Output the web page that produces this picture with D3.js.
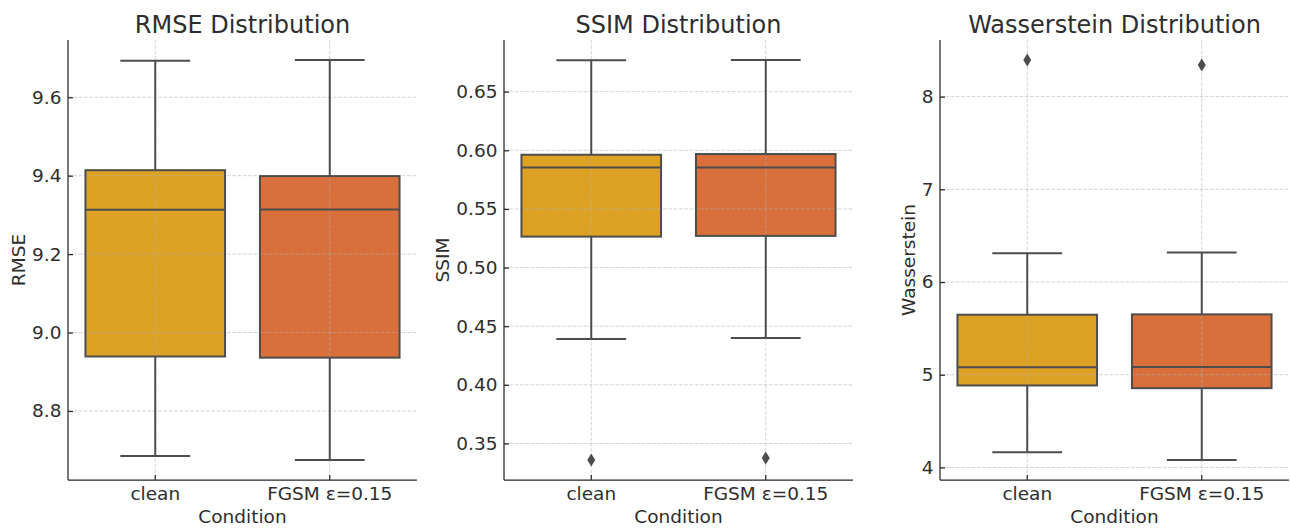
<!DOCTYPE html>
<html>
<head>
<meta charset="utf-8">
<script src="https://cdn.jsdelivr.net/npm/d3@7/dist/d3.min.js"></script>
<style>
  body { margin: 0; background: #fff; }
  svg text { font-family: "DejaVu Sans", sans-serif; fill: #2e2e2e; }
</style>
</head>
<body>
<svg id="chart" width="1290" height="530"></svg>
<script>
// conditions on the x axis
var conditions = ["clean", "FGSM ε=0.15"];
var boxColors = ["#dda224", "#d9703b"];

// box stats per condition: [lower whisker, q1, median, q3, upper whisker]
var rmseStats = [[8.685, 8.939, 9.313, 9.414, 9.693], [8.675, 8.936, 9.314, 9.399, 9.695]];
var rmseOutliers = [[], []];
var rmseTicks = [8.8, 9.0, 9.2, 9.4, 9.6];

var ssimStats = [[0.439, 0.5264, 0.5853, 0.5962, 0.6768], [0.4399, 0.527, 0.5853, 0.5968, 0.677]];
var ssimOutliers = [[0.3359], [0.3376]];
var ssimTicks = [0.35, 0.40, 0.45, 0.50, 0.55, 0.60, 0.65];

var wassStats = [[4.164, 4.884, 5.081, 5.647, 6.31], [4.08, 4.855, 5.084, 5.651, 6.318]];
var wassOutliers = [[8.395], [8.34]];
var wassTicks = [4, 5, 6, 7, 8];

var panels = [
  {title: "RMSE Distribution", ylabel: "RMSE", stats: rmseStats, outliers: rmseOutliers, ticks: rmseTicks, fmt: ".1f", left: 68},
  {title: "SSIM Distribution", ylabel: "SSIM", stats: ssimStats, outliers: ssimOutliers, ticks: ssimTicks, fmt: ".2f", left: 504},
  {title: "Wasserstein Distribution", ylabel: "Wasserstein", stats: wassStats, outliers: wassOutliers, ticks: wassTicks, fmt: "d", left: 940}
];

var svg = d3.select("#chart");
var top_ = 40, bottom = 480, panelW = 349;
var lineCol = "#4d4d4d";
var fontSize = "18.5px";

panels.forEach(function(p) {
  var g = svg.append("g").attr("transform", "translate(" + p.left + ",0)");

  // y limits like matplotlib: data range plus 5% margin
  var all = [];
  p.stats.forEach(function(s, i) { all = all.concat(s, p.outliers[i]); });
  var lo = d3.min(all), hi = d3.max(all), m = (hi - lo) * 0.05;
  var y = d3.scaleLinear().domain([lo - m, hi + m]).range([bottom, top_]);
  var x = d3.scaleBand().domain(conditions).range([0, panelW]);
  var bw = x.bandwidth() * 0.8;

  // box fills
  g.selectAll(".fill").data(p.stats).enter().append("rect")
    .attr("x", function(d, i) { return x(conditions[i]) + (x.bandwidth() - bw) / 2; })
    .attr("y", function(d) { return y(d[3]); })
    .attr("width", bw)
    .attr("height", function(d) { return y(d[1]) - y(d[3]); })
    .attr("fill", function(d, i) { return boxColors[i]; });

  // grid on top of the fills
  var grid = g.append("g").attr("stroke", "#b0b0b0").attr("stroke-opacity", 0.55)
    .attr("stroke-width", 1).attr("stroke-dasharray", "3.7,1.6");
  grid.selectAll(".hg").data(p.ticks).enter().append("line")
    .attr("x1", 0).attr("x2", panelW)
    .attr("y1", function(d) { return y(d); }).attr("y2", function(d) { return y(d); });
  grid.selectAll(".vg").data(conditions).enter().append("line")
    .attr("x1", function(d) { return x(d) + x.bandwidth() / 2; })
    .attr("x2", function(d) { return x(d) + x.bandwidth() / 2; })
    .attr("y1", top_).attr("y2", bottom);

  // whiskers, caps, box outlines, medians
  var boxes = g.selectAll(".box").data(p.stats).enter().append("g")
    .attr("transform", function(d, i) { return "translate(" + (x(conditions[i]) + x.bandwidth() / 2) + ",0)"; })
    .attr("stroke", lineCol).attr("stroke-width", 2).attr("fill", "none");
  boxes.append("line").attr("x1", 0).attr("x2", 0)
    .attr("y1", function(d) { return y(d[0]); }).attr("y2", function(d) { return y(d[1]); });
  boxes.append("line").attr("x1", 0).attr("x2", 0)
    .attr("y1", function(d) { return y(d[3]); }).attr("y2", function(d) { return y(d[4]); });
  boxes.append("line").attr("x1", -bw / 4).attr("x2", bw / 4)
    .attr("y1", function(d) { return y(d[0]); }).attr("y2", function(d) { return y(d[0]); });
  boxes.append("line").attr("x1", -bw / 4).attr("x2", bw / 4)
    .attr("y1", function(d) { return y(d[4]); }).attr("y2", function(d) { return y(d[4]); });
  boxes.append("rect").attr("x", -bw / 2).attr("width", bw)
    .attr("y", function(d) { return y(d[3]); })
    .attr("height", function(d) { return y(d[1]) - y(d[3]); });
  boxes.append("line").attr("x1", -bw / 2).attr("x2", bw / 2)
    .attr("y1", function(d) { return y(d[2]); }).attr("y2", function(d) { return y(d[2]); });

  // outliers as thin diamonds
  p.outliers.forEach(function(arr, i) {
    var cx = x(conditions[i]) + x.bandwidth() / 2;
    g.selectAll(".out" + i).data(arr).enter().append("path")
      .attr("d", function(v) {
        var cy = y(v);
        return "M" + cx + "," + (cy - 6.5) + "L" + (cx + 4) + "," + cy + "L" + cx + "," + (cy + 6.5) + "L" + (cx - 4) + "," + cy + "Z";
      })
      .attr("fill", lineCol);
  });

  // axes
  var yAxis = g.append("g").call(d3.axisLeft(y).tickValues(p.ticks).tickFormat(d3.format(p.fmt)).tickSize(-5).tickPadding(6.5));
  var xAxis = g.append("g").attr("transform", "translate(0," + bottom + ")")
    .call(d3.axisBottom(x).tickSize(-5).tickPadding(11));
  [yAxis, xAxis].forEach(function(a) {
    a.select(".domain").remove();
    a.selectAll("line").attr("stroke", "#262626").attr("stroke-width", 1.25);
    a.selectAll("text").style("font-size", fontSize).style("font-family", "DejaVu Sans").attr("fill", "#2e2e2e");
  });
  xAxis.selectAll("text").attr("dy", null).attr("y", 20);
  // spines left and bottom
  g.append("line").attr("x1", 0).attr("x2", 0).attr("y1", top_).attr("y2", bottom)
    .attr("stroke", "#262626").attr("stroke-width", 1.25);
  g.append("line").attr("x1", 0).attr("x2", panelW).attr("y1", bottom).attr("y2", bottom)
    .attr("stroke", "#262626").attr("stroke-width", 1.25);

  // y label placed left of the widest tick label
  var tickLeft = d3.min(yAxis.selectAll("text").nodes(), function(n) { return n.getBBox().x; });
  g.append("text")
    .attr("transform", "translate(" + (tickLeft - 7) + "," + ((top_ + bottom) / 2) + ") rotate(-90)")
    .attr("text-anchor", "middle")
    .style("font-size", fontSize)
    .text(p.ylabel);

  g.append("text").attr("x", panelW / 2).attr("y", 523).attr("text-anchor", "middle")
    .style("font-size", fontSize).text("Condition");

  g.append("text").attr("x", panelW / 2).attr("y", 32.5).attr("text-anchor", "middle")
    .style("font-size", "24px").text(p.title);
});
</script>
</body>
</html>
